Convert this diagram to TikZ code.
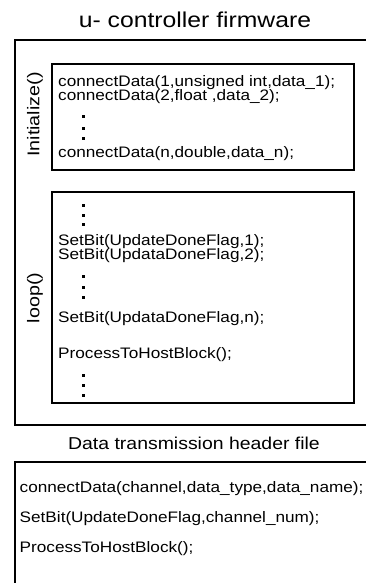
\documentclass[tikz,border=0pt]{standalone}
\usepackage{fontspec}
\setmainfont{Liberation Sans}
\newfontfamily\codef[FakeStretch=1.13]{Liberation Sans}
\newfontfamily\titlef[FakeStretch=1.15]{Liberation Sans}
\newfontfamily\labf[FakeStretch=1.16]{Liberation Sans}
\begin{document}
\begin{tikzpicture}[x=1pt,y=-1pt,
  frame/.style={draw, line width=2pt, inner sep=0pt, outer sep=0pt, anchor=north west},
  inbox/.style={draw, line width=2.4pt, inner sep=0pt, outer sep=0pt, anchor=north west},
  code/.style={anchor=base west, inner sep=0pt, font=\codef\fontsize{15.2}{18}\selectfont},
  ttl/.style={anchor=base, inner sep=0pt, font=\titlef\fontsize{21.5}{25}\selectfont},
  hdr/.style={anchor=base, inner sep=0pt, font=\codef\fontsize{17.2}{20}\selectfont},
  lab/.style={rotate=90, inner sep=0pt, font=\labf\fontsize{17}{20}\selectfont},
  dotm/.style={fill=black}
]
\useasboundingbox (0,0) rectangle (366,583);
% titles
\node[ttl] (t1) at (195,28) {u- controller firmware};
\node[hdr] (t2) at (194,449) {Data transmission header file};
% frames
\node[frame, minimum width=360pt, minimum height=385pt] (fw) at (15,40) {};
\node[inbox, minimum width=302pt, minimum height=106pt] (ib) at (52,64) {};
\node[inbox, minimum width=302pt, minimum height=211pt] (lb) at (52,192) {};
\node[frame, minimum width=360pt, minimum height=140pt] (hb) at (15,462) {};
% labels
\node[lab] (l1) at (35,114.5) {Initialize()};
\node[lab] (l2) at (35,298) {loop()};
% Initialize block
\node[code] (c1) at (58,87) {connectData(1,unsigned int,data\_1);};
\node[code] (c2) at (58,101) {connectData(2,float ,data\_2);};
\node[code] (c3) at (58,157) {connectData(n,double,data\_n);};
\foreach \y in {117,128,138} \fill[dotm] (81.5,\y-1.5) rectangle +(3,3);
% loop block
\foreach \y in {205,215,224} \fill[dotm] (81.5,\y-1.5) rectangle +(3,3);
\node[code] (s1) at (58,245) {SetBit(UpdateDoneFlag,1);};
\node[code] (s2) at (58,259) {SetBit(UpdataDoneFlag,2);};
\foreach \y in {276,287,297} \fill[dotm] (81.5,\y-1.5) rectangle +(3,3);
\node[code] (s3) at (58,322) {SetBit(UpdataDoneFlag,n);};
\node[code] (p1) at (58,358) {ProcessToHostBlock();};
\foreach \y in {375,385,395} \fill[dotm] (81.5,\y-1.5) rectangle +(3,3);
% header block
\node[code] (h1) at (19.5,492) {connectData(channel,data\_type,data\_name);};
\node[code] (h2) at (19.5,522) {SetBit(UpdateDoneFlag,channel\_num);};
\node[code] (h3) at (19.5,552) {ProcessToHostBlock();};
\end{tikzpicture}
\end{document}
